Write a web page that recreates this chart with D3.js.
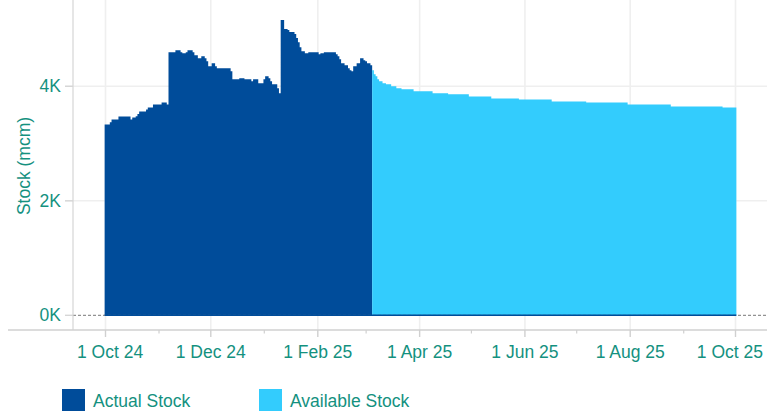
<!DOCTYPE html>
<html>
<head>
<meta charset="utf-8">
<script src="https://cdn.jsdelivr.net/npm/d3@7"></script>
<style>
  html, body { margin: 0; padding: 0; background: #fff; }
  svg { display: block; font-family: "Liberation Sans", Arial, sans-serif; }
</style>
</head>
<body>
<svg id="chart" width="767" height="411"></svg>
<script>
// ---- Data (step change points: stock level in mcm from each date on) ----
const actualDates = [
  "2024-10-01","2024-10-04","2024-10-05","2024-10-09","2024-10-16","2024-10-17","2024-10-19","2024-10-20",
  "2024-10-21","2024-10-25","2024-10-26","2024-10-29","2024-11-03","2024-11-06","2024-11-07","2024-11-11",
  "2024-11-14","2024-11-15","2024-11-17","2024-11-18","2024-11-21","2024-11-22","2024-11-24","2024-11-26",
  "2024-11-28","2024-11-29","2024-11-30","2024-12-02","2024-12-04","2024-12-05","2024-12-13","2024-12-14",
  "2024-12-18","2024-12-21","2024-12-25","2024-12-26","2024-12-29","2025-01-01","2025-01-02","2025-01-04",
  "2025-01-05","2025-01-06","2025-01-09","2025-01-10","2025-01-11","2025-01-13","2025-01-15","2025-01-16",
  "2025-01-19","2025-01-20","2025-01-21","2025-01-22","2025-01-23","2025-01-25","2025-01-27","2025-02-02",
  "2025-02-03","2025-02-05","2025-02-12","2025-02-13","2025-02-14","2025-02-15","2025-02-17","2025-02-19",
  "2025-02-20","2025-02-21","2025-02-22","2025-02-24","2025-02-26","2025-02-28","2025-03-01","2025-03-02",
  "2025-03-04"
];
const actualValues = [
  3333,3373,3420,3473,3420,3456,3479,3514,
  3561,3596,3631,3684,3719,3684,4596,4631,
  4596,4578,4596,4631,4596,4543,4490,4525,
  4490,4438,4350,4403,4350,4315,4262,4122,
  4140,4122,4087,4122,4052,4122,4175,4140,
  4087,4034,3964,3877,5157,5000,4982,4947,
  4912,4842,4771,4683,4613,4578,4596,4561,
  4578,4596,4561,4525,4473,4403,4368,4315,
  4280,4262,4350,4403,4490,4455,4438,4403,
  4368
];
const actualEnd = "2025-03-05";

const availableDates = [
  "2025-03-05","2025-03-06","2025-03-07","2025-03-08","2025-03-09","2025-03-11","2025-03-13","2025-03-16",
  "2025-03-19","2025-03-22","2025-03-29","2025-04-09","2025-04-18","2025-04-30","2025-05-13","2025-05-29",
  "2025-06-17","2025-07-07","2025-07-31","2025-08-25","2025-09-24"
];
const availableValues = [
  4280,4210,4175,4122,4087,4052,4034,4000,
  3964,3947,3912,3877,3859,3824,3789,3771,
  3736,3719,3684,3649,3631
];
const availableEnd = "2025-10-02";

const xTickDates = ["2024-10-01","2024-12-01","2025-02-01","2025-04-01","2025-06-01","2025-08-01","2025-10-01"];
const xTickLabels = ["1 Oct 24","1 Dec 24","1 Feb 25","1 Apr 25","1 Jun 25","1 Aug 25","1 Oct 25"];
const xMinorDates = ["2024-11-01","2025-01-01","2025-03-01","2025-05-01","2025-07-01","2025-09-01"];
const yTickValues = [0, 2000, 4000];
const yTickLabels = ["0K","2K","4K"];
const seriesNames = ["Actual Stock","Available Stock"];
const seriesColors = ["#004c9a","#33ccfd"];

// ---- Layout ----
const W = 767, H = 411;
const plotLeft = 73, plotRight = 767, plotTop = 0, axisY = 330;
const textColor = "#14917f";
const fontSize = "17.5px";

const parse = d3.utcParse("%Y-%m-%d");
const svg = d3.select("#chart");

const x = d3.scaleUtc()
  .domain([parse("2024-10-01"), parse("2025-10-01")])
  .range([105.5, 735.5]);
const y = d3.scaleLinear().domain([0, 4000]).range([315.3, 86.3]);

const halfDay = d => d3.utcHour.offset(d, -12);

// vertical gridlines
svg.append("g").selectAll("line").data(xTickDates.map(parse)).join("line")
  .attr("x1", d => x(d)).attr("x2", d => x(d))
  .attr("y1", plotTop).attr("y2", axisY)
  .attr("stroke", "#efefef").attr("stroke-width", 1.6);

// horizontal gridlines (2K, 4K)
svg.append("g").selectAll("line").data(yTickValues.filter(v => v > 0)).join("line")
  .attr("x1", 65).attr("x2", plotRight)
  .attr("y1", d => y(d)).attr("y2", d => y(d))
  .attr("stroke", "#efefef").attr("stroke-width", 1.6);
// y tick marks
svg.append("g").selectAll("line").data(yTickValues).join("line")
  .attr("x1", 65).attr("x2", plotLeft)
  .attr("y1", d => y(d)).attr("y2", d => y(d))
  .attr("stroke", "#d6d6d6").attr("stroke-width", 1.4);

// series areas (step)
function stepPoints(dates, values, endDate) {
  const pts = dates.map((d, i) => ({ date: halfDay(parse(d)), value: values[i] }));
  pts.push({ date: halfDay(parse(endDate)), value: values[values.length - 1] });
  return pts;
}
const area = d3.area()
  .x(d => x(d.date))
  .y0(y(0))
  .y1(d => y(d.value))
  .curve(d3.curveStepAfter);

const series = [
  stepPoints(actualDates, actualValues, actualEnd),
  stepPoints(availableDates, availableValues, availableEnd)
];
svg.append("g").selectAll("path").data(series).join("path")
  .attr("d", area)
  .attr("fill", (d, i) => seriesColors[i]);

// zero dashed line
svg.append("line")
  .attr("x1", plotLeft).attr("x2", plotRight)
  .attr("y1", y(0)).attr("y2", y(0))
  .attr("stroke", "#777").attr("stroke-width", 1)
  .attr("stroke-dasharray", "3,2");
// dark baseline under bars
svg.append("line")
  .attr("x1", x(halfDay(parse(actualDates[0])))).attr("x2", x(halfDay(parse(availableEnd))))
  .attr("y1", y(0)).attr("y2", y(0))
  .attr("stroke", seriesColors[0]).attr("stroke-width", 1.5);

// y axis line
svg.append("line")
  .attr("x1", plotLeft).attr("x2", plotLeft)
  .attr("y1", plotTop).attr("y2", axisY)
  .attr("stroke", "#d6d6d6").attr("stroke-width", 1.2);

// x axis line
svg.append("line")
  .attr("x1", 8).attr("x2", plotRight)
  .attr("y1", axisY).attr("y2", axisY)
  .attr("stroke", "#d0d0d0").attr("stroke-width", 1.4);

// major ticks
svg.append("g").selectAll("line").data(xTickDates.map(parse)).join("line")
  .attr("x1", d => x(d)).attr("x2", d => x(d))
  .attr("y1", axisY).attr("y2", axisY + 7)
  .attr("stroke", "#d0d0d0").attr("stroke-width", 1.4);
// minor ticks
svg.append("g").selectAll("line").data(xMinorDates.map(parse)).join("line")
  .attr("x1", d => x(d)).attr("x2", d => x(d))
  .attr("y1", axisY).attr("y2", axisY + 3.5)
  .attr("stroke", "#d0d0d0").attr("stroke-width", 1.2);

// x tick labels (edge labels kept inside the plot width)
const nT = xTickDates.length;
svg.append("g").selectAll("text").data(xTickDates).join("text")
  .attr("x", (d, i) => i === 0 ? plotLeft + 4 : (i === nT - 1 ? plotRight - 4 : x(parse(d))))
  .attr("y", 358)
  .attr("text-anchor", (d, i) => i === 0 ? "start" : (i === nT - 1 ? "end" : "middle"))
  .attr("fill", textColor).style("font-size", fontSize)
  .text((d, i) => xTickLabels[i]);

// y tick labels
svg.append("g").selectAll("text").data(yTickValues).join("text")
  .attr("x", 61).attr("y", d => y(d))
  .attr("text-anchor", "end").attr("dominant-baseline", "central")
  .attr("fill", textColor).style("font-size", fontSize)
  .text((d, i) => yTickLabels[i]);

// y axis title
svg.append("text")
  .attr("transform", "translate(30,166) rotate(-90)")
  .attr("text-anchor", "middle")
  .attr("fill", textColor).style("font-size", fontSize)
  .text("Stock (mcm)");

// legend
const legendX = [62, 259];
const lg = svg.append("g").selectAll("g").data(seriesNames).join("g")
  .attr("transform", (d, i) => `translate(${legendX[i]},389)`);
lg.append("rect").attr("width", 23).attr("height", 22)
  .attr("fill", (d, i) => seriesColors[i]);
lg.append("text").attr("x", 31).attr("y", 17.7)
  .attr("fill", textColor).style("font-size", fontSize)
  .text(d => d);
</script>
</body>
</html>
